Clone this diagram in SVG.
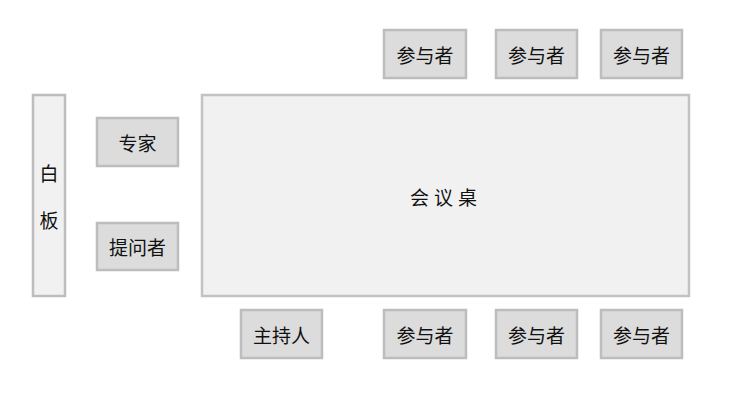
<svg xmlns="http://www.w3.org/2000/svg" width="738" height="406" viewBox="0 0 738 406">
<style>
.bg{fill:#ffffff}
.box rect{fill:#dcdcdc;stroke:#bdbdbd;stroke-width:2.5}
.table rect{fill:#f1f1f2;stroke:#c2c2c2;stroke-width:2.5}
.board rect{fill:#f1f1f2;stroke:#bdbdbd;stroke-width:2.5}
text{font-family:"Noto Sans CJK SC","Liberation Sans",sans-serif;font-size:19px;fill:#111111;text-anchor:middle;dominant-baseline:central}
</style>
<rect class="bg" x="0" y="0" width="738" height="406"/>
<g id="connectors"/>
<g id="whiteboard" class="board"><rect x="33" y="95" width="32" height="201"/><text x="49" y="172">白</text><text x="49" y="219">板</text></g>
<g id="table" class="table"><rect x="202" y="95" width="487" height="201"/><text x="446" y="196" style="letter-spacing:5px">会议桌</text></g>
<g id="expert" class="box"><rect x="97" y="118" width="81" height="48"/><text x="137.5" y="142">专家</text></g>
<g id="questioner" class="box"><rect x="97" y="223" width="81" height="47"/><text x="137.5" y="246">提问者</text></g>
<g id="top1" class="box"><rect x="384" y="30" width="82" height="48"/><text x="425" y="54">参与者</text></g>
<g id="top2" class="box"><rect x="496" y="30" width="81" height="48"/><text x="536.5" y="54">参与者</text></g>
<g id="top3" class="box"><rect x="601" y="30" width="81" height="48"/><text x="641.5" y="54">参与者</text></g>
<g id="host" class="box"><rect x="241" y="310" width="81" height="48"/><text x="281.5" y="334">主持人</text></g>
<g id="bot1" class="box"><rect x="384" y="310" width="82" height="48"/><text x="425" y="334">参与者</text></g>
<g id="bot2" class="box"><rect x="496" y="310" width="81" height="48"/><text x="536.5" y="334">参与者</text></g>
<g id="bot3" class="box"><rect x="601" y="310" width="81" height="48"/><text x="641.5" y="334">参与者</text></g>
</svg>
